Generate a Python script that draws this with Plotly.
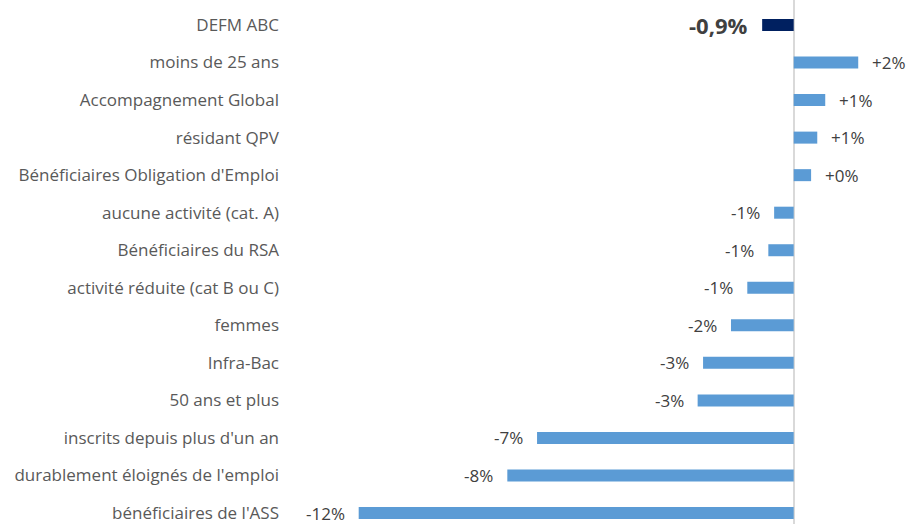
import plotly.graph_objects as go

categories = [
    "DEFM ABC",
    "moins de 25 ans",
    "Accompagnement Global",
    "résidant QPV",
    "Bénéficiaires Obligation d'Emploi",
    "aucune activité (cat. A)",
    "Bénéficiaires du RSA",
    "activité réduite (cat B ou C)",
    "femmes",
    "Infra-Bac",
    "50 ans et plus",
    "inscrits depuis plus d'un an",
    "durablement éloignés de l'emploi",
    "bénéficiaires de l'ASS",
]
values = [-0.87, 1.78, 0.87, 0.65, 0.48, -0.54, -0.70, -1.28, -1.73, -2.5, -2.65, -7.08, -7.9, -12.0]
labels = ["-0,9%", "+2%", "+1%", "+1%", "+0%", "-1%", "-1%", "-1%", "-2%", "-3%", "-3%", "-7%", "-8%", "-12%"]

LIGHT = "#5B9BD5"
NAVY = "#002060"
FONT = "Open Sans"
colors = [NAVY] + [LIGHT] * (len(categories) - 1)

fig = go.Figure()
fig.add_trace(go.Bar(
    x=values,
    y=categories,
    orientation="h",
    marker=dict(color=colors, line=dict(width=0)),
    hoverinfo="skip",
))

annotations = []
for i, (c, v, t) in enumerate(zip(categories, values, labels)):
    first = i == 0
    annotations.append(dict(
        x=v, y=c, xref="x", yref="y", text=t, showarrow=False,
        xanchor="left" if v >= 0 else "right",
        xshift=12 if v >= 0 else -12,
        font=dict(family=FONT, size=22 if first else 17,
                  color="#404040", weight="bold" if first else "normal"),
    ))

fig.update_layout(
    width=906, height=524,
    margin=dict(l=290, r=10, t=0, b=0),
    paper_bgcolor="white", plot_bgcolor="white",
    bargap=0.68,
    showlegend=False,
    annotations=annotations,
    font=dict(family=FONT, size=17, color="#595959"),
)
fig.update_xaxes(
    range=[-13.895, 2.822], showgrid=False, showticklabels=False,
    zeroline=True, zerolinecolor="#d9d9d9", zerolinewidth=1.5,
)
fig.update_yaxes(
    range=[13.293, -0.666], showgrid=False, showline=False,
    ticks="", ticklabelstandoff=10,
    tickfont=dict(family=FONT, size=17, color="#595959"),
)

fig.write_html("out.html", config={"displayModeBar": False},
               post_script="document.body.style.margin='0';")
